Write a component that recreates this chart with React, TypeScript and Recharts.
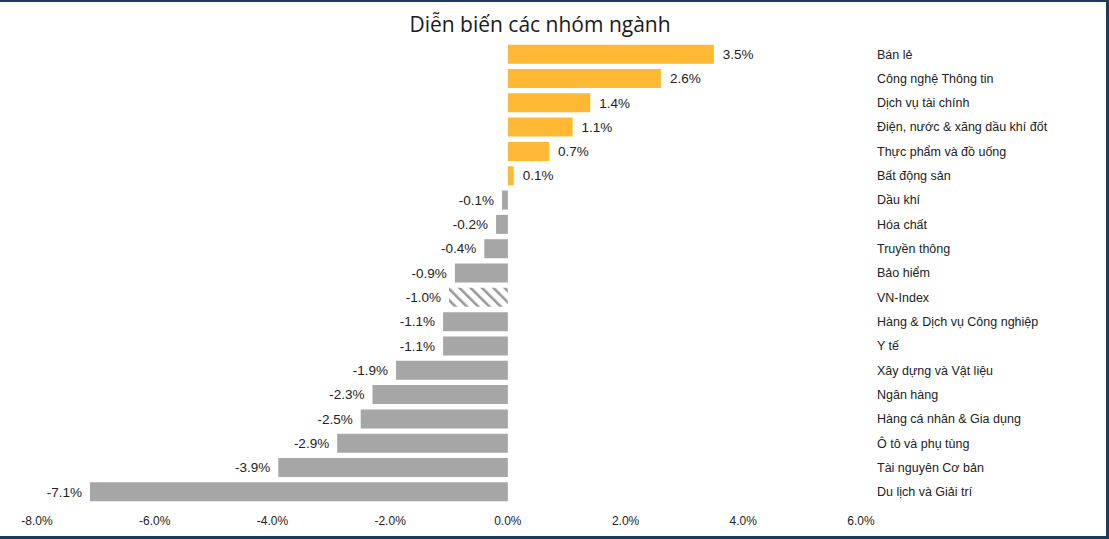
import React from "react";
import { BarChart, Bar, XAxis, YAxis, Cell, LabelList } from "recharts";

const categories = [
  "Bán lẻ",
  "Công nghệ Thông tin",
  "Dịch vụ tài chính",
  "Điện, nước & xăng dầu khí đốt",
  "Thực phẩm và đồ uống",
  "Bất động sản",
  "Dầu khí",
  "Hóa chất",
  "Truyền thông",
  "Bảo hiểm",
  "VN-Index",
  "Hàng & Dịch vụ Công nghiệp",
  "Y tế",
  "Xây dựng và Vật liệu",
  "Ngân hàng",
  "Hàng cá nhân & Gia dụng",
  "Ô tô và phụ tùng",
  "Tài nguyên Cơ bản",
  "Du lịch và Giải trí",
];

const changes = [
  3.5, 2.6, 1.4, 1.1, 0.7, 0.1, -0.1, -0.2, -0.4, -0.9, -1.0, -1.1, -1.1, -1.9,
  -2.3, -2.5, -2.9, -3.9, -7.1,
];

const xTicks = [-8, -6, -4, -2, 0, 2, 4, 6];

const indexName = "VN-Index";
const title = "Diễn biến các nhóm ngành";

const data = categories.map((name, i) => ({ name, value: changes[i] }));

const ORANGE = "#FFB833";
const GRAY = "#A6A6A6";
const TEXT = "#222222";

const CategoryTick = (props: any) => {
  const { x, y, payload } = props;
  return (
    <text
      x={x}
      y={y}
      dy="0.35em"
      textAnchor="start"
      fill={TEXT}
      fontSize={12.5}
      fontFamily="'Liberation Sans', Arial, sans-serif"
    >
      {payload.value}
    </text>
  );
};

const ValueLabel = (props: any) => {
  const vb = props.viewBox && props.viewBox.width !== undefined ? props.viewBox : props;
  const x = Number(vb.x);
  const y = Number(vb.y);
  const w = Number(vb.width);
  const h = Number(vb.height);
  const v = Number(props.value);
  const left = Math.min(x, x + w);
  const right = Math.max(x, x + w);
  const cy = y + h / 2;
  const neg = v < 0;
  return (
    <text
      x={neg ? left - 8 : right + 9}
      y={cy}
      dy="0.35em"
      textAnchor={neg ? "end" : "start"}
      fill={TEXT}
      fontSize={13.5}
      fontFamily="'Liberation Sans', Arial, sans-serif"
    >
      {v.toFixed(1) + "%"}
    </text>
  );
};

export default function App() {
  return (
    <div
      style={{
        position: "absolute",
        left: 0,
        top: 0,
        width: 1109,
        height: 539,
        boxSizing: "border-box",
        background: "#ffffff",
        borderTop: "2px solid #1B3B5A",
        borderRight: "3px solid #1B3B5A",
        borderBottom: "3px solid #1B3B5A",
        overflow: "hidden",
      }}
    >
      <div
        style={{
          position: "absolute",
          left: 0,
          width: 1080,
          top: 8,
          textAlign: "center",
          fontFamily: "'Open Sans', sans-serif",
          fontSize: 21,
          color: "#1a1a1a",
        }}
      >
        {title}
      </div>
      <div style={{ position: "absolute", left: 0, top: -2 }}>
        <BarChart
          width={1106}
          height={539}
          data={data}
          layout="vertical"
          margin={{ top: 42, right: 0, bottom: 5, left: 37 }}
          barCategoryGap="11%"
        >
          <defs>
            <pattern
              id="hatch"
              patternUnits="userSpaceOnUse"
              width="8"
              height="8"
              patternTransform="rotate(-45)"
            >
              <rect x="0" y="0" width="8" height="8" fill="#ffffff" />
              <rect x="0" y="0" width="2.6" height="8" fill="#999999" />
            </pattern>
          </defs>
          <XAxis
            type="number"
            domain={[-8, 6]}
            ticks={xTicks}
            tickFormatter={(v: number) => v.toFixed(1) + "%"}
            axisLine={false}
            tickLine={false}
            tickMargin={6}
            height={30}
            interval={0}
            tick={{
              fill: TEXT,
              fontSize: 12,
              fontFamily: "'Liberation Sans', Arial, sans-serif",
            }}
          />
          <YAxis
            type="category"
            dataKey="name"
            orientation="right"
            width={245}
            axisLine={false}
            tickLine={false}
            tickMargin={10}
            interval={0}
            tick={<CategoryTick />}
          />
          <Bar dataKey="value" isAnimationActive={false}>
            {data.map((d) => (
              <Cell
                key={d.name}
                fill={d.name === indexName ? "url(#hatch)" : d.value >= 0 ? ORANGE : GRAY}
              />
            ))}
            <LabelList dataKey="value" content={<ValueLabel />} />
          </Bar>
        </BarChart>
      </div>
    </div>
  );
}
